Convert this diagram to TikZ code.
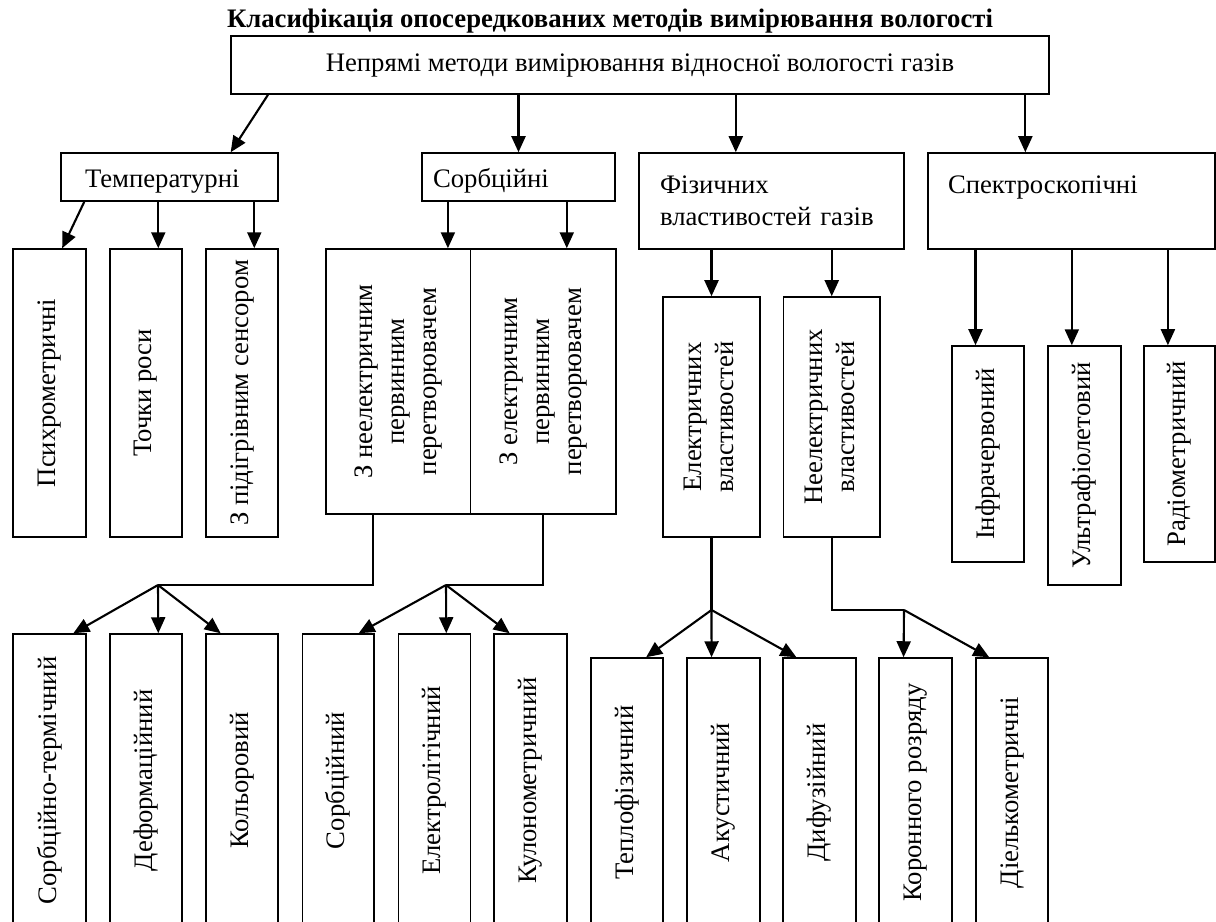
\documentclass[tikz,border=0pt]{standalone}
\usepackage{fontspec}
\setmainfont{Liberation Serif}
\usepackage{graphicx}
\usetikzlibrary{arrows.meta, calc}

\begin{document}
\begin{tikzpicture}[
  x=0.02cm, y=-0.02cm,
  font=\fontsize{15.2}{18.2}\selectfont,
  box/.style={draw, line width=0.9pt, inner sep=0pt},
  hbox/.style={box, align=left},
  vbox/.style={box, align=center},
  arr/.style={-{Triangle[length=0.32cm, width=0.28cm]}, line width=1.2pt},
  link/.style={line width=1.2pt},
]
  \useasboundingbox (0,0) rectangle (1216,921);
  \clip (0,0) rectangle (1216,921);

  % Title
  \node[font=\fontsize{15.2}{17}\selectfont\bfseries, anchor=base] (title) at (610,27)
    {Класифікація опосередкованих методів вимірювання вологості};

  % Root node
  \node[box, minimum width=16.36cm, minimum height=1.16cm] (root) at (640,65)
    {Непрямі методи вимірювання відносної вологості газів};

  % Second level
  \node[hbox, text width=3.38cm, inner xsep=0.48cm, minimum height=0.96cm,
        text height=0.4cm, text depth=0pt] (temp) at (169.5,177) {Температурні};
  \node[hbox, text width=3.42cm, inner xsep=0.22cm, minimum height=0.96cm,
        text height=0.4cm, text depth=0pt] (sorb) at (518.5,177) {Сорбційні};
  \node[hbox, text width=4.46cm, inner xsep=0.42cm, minimum height=1.92cm] (fiz)  at (771.5,201) {Фізичних\\властивостей газів};
  \node[hbox, text width=4.94cm, inner xsep=0.40cm, minimum height=1.92cm] (spec) at (1071.5,201) {Спектроскопічні\\\mbox{}};

  % Third level
  \node[vbox, minimum width=1.46cm, minimum height=5.76cm] (psy)  at (49.5,393) {\rotatebox{90}{Психрометричні}};
  \node[vbox, minimum width=1.44cm, minimum height=5.76cm] (dew)  at (146,393)  {\rotatebox{90}{Точки роси}};
  \node[vbox, minimum width=1.44cm, minimum height=5.76cm] (heat) at (242,393)  {\rotatebox{90}{З підігрівним сенсором}};
  \node[vbox, minimum width=2.89cm, minimum height=5.30cm] (sne)  at (398.25,381.5)
    {\rotatebox{90}{\begin{tabular}{@{}c@{}}З неелектричним\\первинним\\перетворювачем\end{tabular}}};
  \node[vbox, minimum width=2.91cm, minimum height=5.30cm] (sel)  at (543.25,381.5)
    {\rotatebox{90}{\begin{tabular}{@{}c@{}}З електричним\\первинним\\перетворювачем\end{tabular}}};
  \node[vbox, minimum width=1.94cm, minimum height=4.80cm] (elp)  at (711.5,417)
    {\rotatebox{90}{\begin{tabular}{@{}c@{}}Електричних\\властивостей\end{tabular}}};
  \node[vbox, minimum width=1.93cm, minimum height=4.80cm] (nep)  at (831.75,417)
    {\rotatebox{90}{\begin{tabular}{@{}c@{}}Неелектричних\\властивостей\end{tabular}}};
  \node[vbox, minimum width=1.44cm, minimum height=4.32cm] (ir)   at (988,454)    {\rotatebox{90}{Інфрачервоний}};
  \node[vbox, minimum width=1.46cm, minimum height=4.78cm] (uv)   at (1084.5,465.5) {\rotatebox{90}{Ультрафіолетовий}};
  \node[vbox, minimum width=1.42cm, minimum height=4.32cm] (rad)  at (1179.5,454) {\rotatebox{90}{Радіометричний}};

  % Fourth level (runs off the bottom edge)
  \node[vbox, minimum width=1.46cm, minimum height=5.86cm] (st)  at (49.5,780.5)   {\rotatebox{90}{Сорбційно-термічний}};
  \node[vbox, minimum width=1.44cm, minimum height=5.86cm] (def) at (146,780.5)    {\rotatebox{90}{Деформаційний}};
  \node[vbox, minimum width=1.44cm, minimum height=5.86cm] (col) at (242,780.5)    {\rotatebox{90}{Кольоровий}};
  \node[vbox, minimum width=1.43cm, minimum height=5.86cm] (sor) at (338.25,780.5) {\rotatebox{90}{Сорбційний}};
  \node[vbox, minimum width=1.44cm, minimum height=5.86cm] (ell) at (434.5,780.5)  {\rotatebox{90}{Електролітічний}};
  \node[vbox, minimum width=1.46cm, minimum height=5.86cm] (cou) at (530.5,780.5)  {\rotatebox{90}{Кулонометричний}};
  \node[vbox, minimum width=1.44cm, minimum height=5.38cm] (tep) at (627,792.5)    {\rotatebox{90}{Теплофізичний}};
  \node[vbox, minimum width=1.46cm, minimum height=5.38cm] (aco) at (723.5,792.5)  {\rotatebox{90}{Акустичний}};
  \node[vbox, minimum width=1.46cm, minimum height=5.38cm] (dif) at (819.5,792.5)  {\rotatebox{90}{Дифузійний}};
  \node[vbox, minimum width=1.46cm, minimum height=5.38cm] (cor) at (915.5,792.5)  {\rotatebox{90}{Коронного розряду}};
  \node[vbox, minimum width=1.44cm, minimum height=5.38cm] (die) at (1012,792.5)   {\rotatebox{90}{Діелькометричні}};

  % Arrows from the upper boxes
  \draw[arr] ($(root.south west)!0.046!(root.south east)$) -- ($(temp.north west)!0.78!(temp.north east)$);
  \draw[arr] ($(temp.south west)!0.11!(temp.south east)$) -- ($(psy.north west)!0.67!(psy.north east)$);
  \foreach \p/\c/\f in {root/sorb/0.5, root/fiz/0.366, root/spec/0.34,
                        temp/dew/0.667, temp/heat/0.667, sorb/sne/0.84, sorb/sel/0.66,
                        fiz/elp/0.5, fiz/nep/0.5, spec/ir/0.33, spec/uv/0.33, spec/rad/0.34}
  { \coordinate (t) at ($(\c.north west)!\f!(\c.north east)$);
    \draw[arr] (\p.south -| t) -- (t); }

  % Branch points
  \coordinate (j1) at (158,585);
  \coordinate (j2) at (446,585);
  \coordinate (j3) at (711.5,610);
  \coordinate (j4) at (904,610);
  \draw[link] ($(sne.south west)!0.33!(sne.south east)$) |- (j1);
  \draw[link] (sel.south) |- (j2);
  \draw[link] (elp.south) -- (j3);
  \draw[link] (nep.south) |- (j4);
  \foreach \j/\c/\f in {j1/st/0.82, j1/def/0.667, j1/col/0.21,
                        j2/sor/0.78, j2/ell/0.66, j2/cou/0.22,
                        j3/tep/0.76, j3/aco/0.34, j3/dif/0.19,
                        j4/cor/0.34, j4/die/0.19}
  { \draw[arr] (\j) -- ($(\c.north west)!\f!(\c.north east)$); }
\end{tikzpicture}
\end{document}
